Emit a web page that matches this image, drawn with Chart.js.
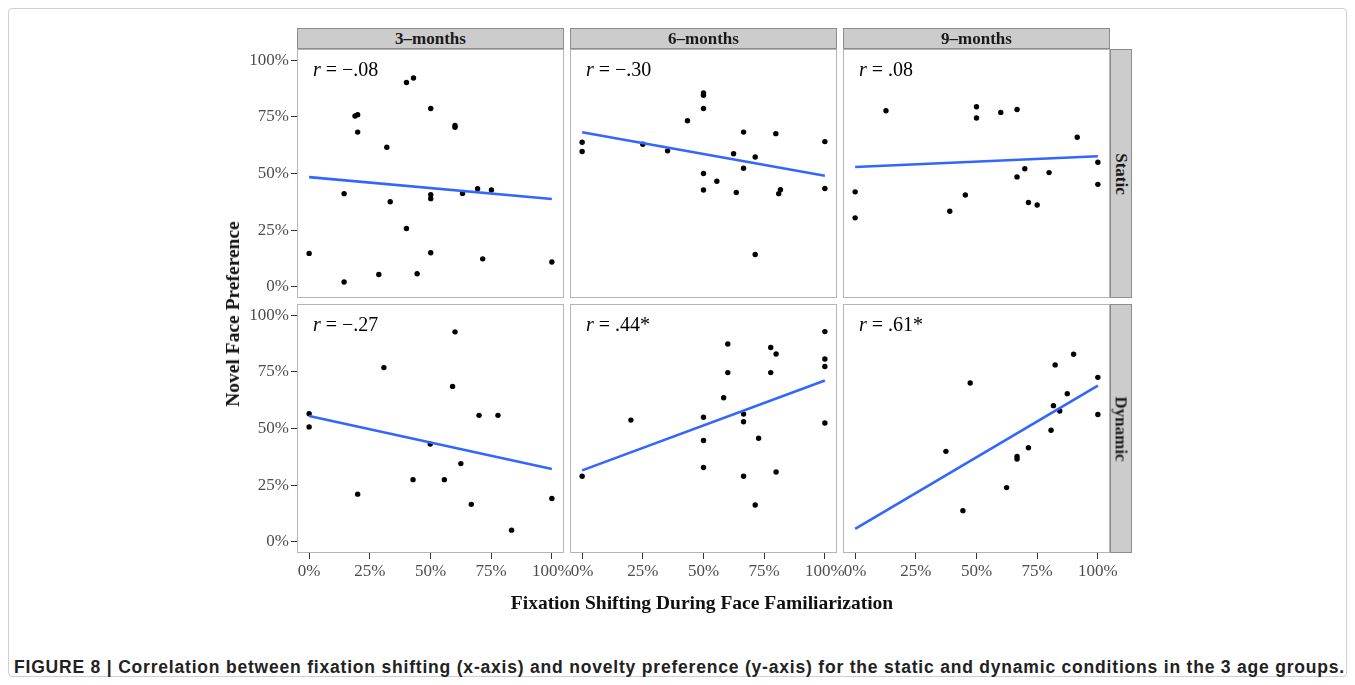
<!DOCTYPE html>
<html>
<head>
<meta charset="utf-8">
<title>Figure 8</title>
<script src="https://cdn.jsdelivr.net/npm/chart.js@4.4.0/dist/chart.umd.min.js"></script>
<style>
  body { margin: 0; background: #fff; width: 1355px; height: 685px; position: relative; overflow: hidden; font-family: "Liberation Serif", serif; }
  .frame { position: absolute; left: 8px; top: 8px; width: 1337px; height: 667px; border: 1px solid #cfcfcf; border-radius: 4px; }
  canvas { position: absolute; }
  .strip { position: absolute; background: #cccccc; border: 1px solid #8c8c8c; box-sizing: border-box; font-weight: bold; font-size: 17px; color: #1a1a1a; display: flex; align-items: center; justify-content: center; }
  .strip span { white-space: nowrap; }
  .vstrip span { transform: rotate(90deg); }
  .axtitle { position: absolute; font-weight: bold; font-size: 19.5px; color: #111; white-space: nowrap; }
  .caption { position: absolute; left: 14px; top: 657px; font-family: "Liberation Sans", Arial, sans-serif; font-weight: bold; font-size: 17.5px; letter-spacing: 0.8px; color: #222; white-space: nowrap; }
</style>
</head>
<body>
<div class="frame"></div>
<div id="figure"></div>
<div class="axtitle" id="ytitle" style="left:233px; top:314px; transform: translate(-50%,-50%) rotate(-90deg);">Novel Face Preference</div>
<div class="axtitle" id="xtitle" style="left:702px; top:603px; transform: translate(-50%,-50%);">Fixation Shifting During Face Familiarization</div>
<div class="caption">FIGURE 8 | Correlation between fixation shifting (x-axis) and novelty preference (y-axis) for the static and dynamic conditions in the 3 age groups.</div>
<script>
// facets
const ageGroups = ['3–months', '6–months', '9–months'];
const conditions = ['Static', 'Dynamic'];
const xTicks = [0, 25, 50, 75, 100];
const yTicks = [0, 25, 50, 75, 100];

// static condition (x = fixation shifting %, y = novel face preference %)
const s3x = [40.1, 43.0, 50.1, 18.9, 20.0, 20.0, 60.1, 60.1, 32.0, 14.4, 33.4, 50.1, 50.1, 63.2, 69.4, 75.1, 40.1, 0, 50.1, 71.5, 100, 28.7, 44.5, 14.4];
const s3y = [90.2, 92.2, 78.7, 75.4, 76.0, 68.3, 71.2, 70.4, 61.6, 41.1, 37.5, 40.6, 38.9, 41.2, 43.3, 42.7, 25.7, 14.7, 15.0, 12.3, 10.9, 5.4, 5.7, 2.1];
const s6x = [50, 50, 50, 43.4, 0, 0, 25.0, 35.2, 66.5, 79.8, 100, 62.4, 71.3, 66.5, 50, 55.5, 50, 63.5, 81.7, 81.0, 100, 71.3];
const s6y = [85.6, 84.6, 78.7, 73.3, 63.8, 59.7, 62.9, 60.0, 68.3, 67.6, 64.1, 58.7, 57.3, 52.3, 50.0, 46.6, 42.7, 41.6, 42.8, 41.1, 43.4, 14.2];
const s9x = [12.7, 50, 50, 60.0, 66.7, 91.5, 100, 100, 69.9, 66.7, 79.9, 0, 0, 45.4, 39.0, 71.4, 75.0];
const s9y = [77.7, 79.5, 74.5, 77.0, 78.3, 66.0, 55.0, 45.2, 52.1, 48.5, 50.4, 41.9, 30.4, 40.5, 33.3, 37.2, 36.1];

// dynamic condition
const d3x = [60.1, 30.8, 59.1, 0, 0, 70.0, 77.8, 49.9, 62.5, 42.8, 55.7, 20.0, 66.8, 100, 83.4];
const d3y = [92.7, 76.9, 68.6, 56.5, 50.7, 55.8, 55.8, 43.1, 34.5, 27.4, 27.4, 21.0, 16.5, 19.1, 5.1];
const d6x = [100, 100, 100, 100, 60.0, 77.7, 79.9, 60.0, 77.7, 58.3, 50, 20.1, 66.5, 66.5, 50, 72.7, 50, 66.5, 79.9, 0, 71.3];
const d6y = [92.8, 80.7, 77.4, 52.4, 87.3, 85.8, 82.9, 74.7, 74.7, 63.6, 55.0, 53.7, 56.4, 53.0, 44.7, 45.7, 32.8, 28.9, 30.8, 28.9, 16.2];
const d9x = [90.0, 82.4, 100, 47.4, 87.4, 81.7, 84.3, 100, 80.7, 71.4, 37.4, 66.7, 66.7, 62.4, 44.4];
const d9y = [82.8, 78.1, 72.6, 70.1, 65.4, 60.1, 57.7, 56.2, 49.2, 41.5, 39.9, 37.7, 36.5, 23.9, 13.7];

// fitted lines (value at x = 0% and x = 100%), panel order: static 3/6/9, dynamic 3/6/9
const fitX = [0, 100];
const fitStart = [48.4, 68.2, 52.9, 55.5, 31.5, 5.7];
const fitEnd = [38.7, 49.0, 57.6, 32.1, 71.2, 68.9];
const rLabels = ['−.08', '−.30', '.08', '−.27', '.44*', '.61*'];

const panelX = [s3x, s6x, s9x, d3x, d6x, d9x];
const panelY = [s3y, s6y, s9y, d3y, d6y, d9y];

// layout
const colLeft = [297, 570, 843];
const rowTop = [49, 304];
const panelW = 267, panelH = 249;
const pad = 20, yAxisW = 55, xAxisH = 30;

Chart.defaults.font.family = '"Liberation Serif", serif';
Chart.defaults.animation = false;

const panelBox = {
  id: 'panelBox',
  beforeDraw(chart) {
    const a = chart.chartArea, ctx = chart.ctx;
    ctx.save();
    ctx.fillStyle = '#fff';
    ctx.fillRect(a.left, a.top, a.width, a.height);
    ctx.restore();
  },
  afterDraw(chart) {
    const a = chart.chartArea, ctx = chart.ctx;
    ctx.save();
    ctx.strokeStyle = '#b5b5b5';
    ctx.lineWidth = 1;
    ctx.strokeRect(a.left + 0.5, a.top + 0.5, a.width - 1, a.height - 1);
    ctx.restore();
  }
};

const rText = {
  id: 'rText',
  afterDatasetsDraw(chart, args, opts) {
    const a = chart.chartArea, ctx = chart.ctx;
    ctx.save();
    ctx.fillStyle = '#000';
    ctx.textBaseline = 'middle';
    let x = a.left + 16, y = a.top + 22;
    ctx.font = 'italic 20px "Liberation Serif"';
    ctx.fillText('r', x, y);
    x += ctx.measureText('r').width;
    ctx.font = '20px "Liberation Serif"';
    ctx.fillText(' = ' + opts.value, x, y);
    ctx.restore();
  }
};

const fig = document.getElementById('figure');

for (let r = 0; r < 2; r++) {
  for (let c = 0; c < 3; c++) {
    const i = r * 3 + c;
    const showY = c === 0, showX = r === 1;
    const padL = pad + (showY ? yAxisW : 0);
    const padB = pad + (showX ? xAxisH : 0);
    const cv = document.createElement('canvas');
    cv.width = panelW + padL + pad;
    cv.height = panelH + pad + padB;
    cv.style.left = (colLeft[c] - padL) + 'px';
    cv.style.top = (rowTop[r] - pad) + 'px';
    fig.appendChild(cv);

    const pts = panelX[i].map((x, k) => ({ x: x, y: panelY[i][k] }));

    new Chart(cv, {
      type: 'scatter',
      data: {
        datasets: [
          {
            type: 'line',
            data: [{ x: fitX[0], y: fitStart[i] }, { x: fitX[1], y: fitEnd[i] }],
            borderColor: '#3366ff',
            borderWidth: 2.6,
            pointRadius: 0,
            fill: false
          },
          {
            data: pts,
            backgroundColor: '#000',
            borderWidth: 0,
            pointRadius: 2.7
          }
        ]
      },
      options: {
        responsive: false,
        devicePixelRatio: 1,
        layout: { padding: pad },
        plugins: {
          legend: { display: false },
          tooltip: { enabled: false },
          rText: { value: rLabels[i] }
        },
        scales: {
          x: {
            type: 'linear', min: -5, max: 105, display: showX,
            afterBuildTicks: s => { s.ticks = xTicks.map(v => ({ value: v })); },
            afterFit: s => { s.height = showX ? xAxisH : 0; },
            grid: { display: true, drawOnChartArea: false, drawTicks: true, tickLength: 6, color: '#333' },
            border: { display: false },
            ticks: { callback: v => v + '%', color: '#4d4d4d', font: { size: 17 }, padding: 2, maxRotation: 0, autoSkip: false }
          },
          y: {
            type: 'linear', min: -5, max: 105, display: showY,
            afterBuildTicks: s => { s.ticks = yTicks.map(v => ({ value: v })); },
            afterFit: s => { s.width = showY ? yAxisW : 0; },
            grid: { display: true, drawOnChartArea: false, drawTicks: true, tickLength: 6, color: '#333' },
            border: { display: false },
            ticks: { callback: v => v + '%', color: '#4d4d4d', font: { size: 17 }, padding: 2, autoSkip: false }
          }
        }
      },
      plugins: [panelBox, rText]
    });
  }
}

// facet strips
ageGroups.forEach((g, c) => {
  const d = document.createElement('div');
  d.className = 'strip';
  d.style.left = colLeft[c] + 'px';
  d.style.top = (rowTop[0] - 21) + 'px';
  d.style.width = panelW + 'px';
  d.style.height = '21px';
  d.innerHTML = '<span>' + g + '</span>';
  fig.appendChild(d);
});
conditions.forEach((g, r) => {
  const d = document.createElement('div');
  d.className = 'strip vstrip';
  d.style.left = (colLeft[2] + panelW) + 'px';
  d.style.top = rowTop[r] + 'px';
  d.style.width = '22px';
  d.style.height = panelH + 'px';
  d.innerHTML = '<span>' + g + '</span>';
  fig.appendChild(d);
});
</script>
</body>
</html>
